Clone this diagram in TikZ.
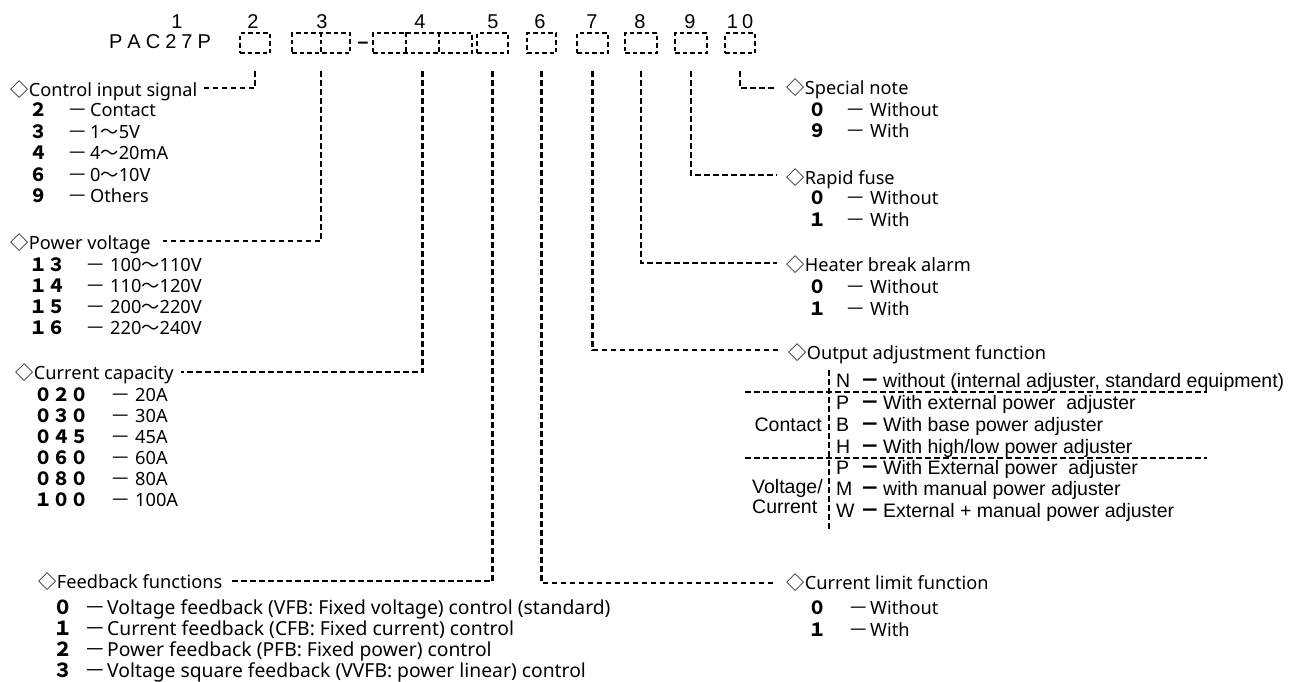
\documentclass[tikz,border=0pt]{standalone}
\usepackage{fontspec}
\setmainfont{Noto Sans}
\newfontfamily\cjk{Noto Sans CJK JP}
\newfontfamily\arl{Liberation Sans}
\usetikzlibrary{calc}
\newcommand{\dia}{{\cjk ◇}}
\newcommand{\wave}{{\cjk ～}}
\newcommand{\cd}[1]{{\cjk\bfseries #1}}
\newcommand{\dsh}{\scalebox{1.12}[1]{\cjk －}}
\newcommand{\opt}[4]{\makebox[#1pt][l]{\cd{#3}}\makebox[#2pt][l]{\dsh}#4}
\newcommand{\oar}[2]{\makebox[24pt][l]{#1}\makebox[23pt][l]{{\cjk\bfseries －}}#2}
\newcommand{\lf}{\fontsize{18.2}{21}\selectfont}
\newcommand{\fbf}{\fontsize{19.3}{21}\selectfont}
\newcommand{\af}{\arl\fontsize{19.5}{21}\selectfont}
\newcommand{\tf}{\arl\fontsize{20}{22}\selectfont}
\begin{document}
\begin{tikzpicture}[x=1pt,y=-1pt,
  ttl/.style={anchor=base west, inner sep=0pt, font=\lf},
  opt/.style={anchor=base west, inner sep=0pt, font=\lf},
  fbo/.style={anchor=base west, inner sep=0pt, font=\fbf},
  oa/.style={anchor=base west, inner sep=0pt, font=\af},
  topn/.style={anchor=base, inner sep=0pt, font=\tf},
  cbox/.style={draw, line width=2pt, dash pattern=on 4.5pt off 3pt, minimum height=20pt, inner sep=0pt},
  lead/.style={line width=2.3pt, dash pattern=on 5.5pt off 3.5pt}]
\useasboundingbox (0,0) rectangle (1291,681);
% ---- top code
\node[topn] (n1) at (177,28) {1};
\node[topn] (n2) at (253,28) {2};
\node[topn] (n3) at (322,28) {3};
\node[topn] (n4) at (420,28) {4};
\node[topn] (n5) at (493,28) {5};
\node[topn] (n6) at (540,28) {6};
\node[topn] (n7) at (592,28) {7};
\node[topn] (n8) at (640,28) {8};
\node[topn] (n9) at (690,28) {9};
\node[topn] (n10) at (740,28) {1\kern4pt 0};
\node[topn] (pac) at (160,48) {P\kern5pt A\kern5pt C\kern5pt 2\kern5pt 7\kern5pt P};
\node[topn] (hy) at (363,48) {\bfseries –};
\node[cbox, minimum width=30pt] (b2) at (255,43) {};
\node[cbox, minimum width=58pt] (b3) at (321,43) {};
\draw[line width=2pt, dash pattern=on 4.5pt off 3pt] (b3.north) -- (b3.south);
\node[cbox, minimum width=99pt] (b4) at (422.5,43) {};
\draw[line width=2pt, dash pattern=on 4.5pt off 3pt] ($(b4.north west)!0.333!(b4.north east)$) -- ($(b4.south west)!0.333!(b4.south east)$);
\draw[line width=2pt, dash pattern=on 4.5pt off 3pt] ($(b4.north west)!0.667!(b4.north east)$) -- ($(b4.south west)!0.667!(b4.south east)$);
\node[cbox, minimum width=31pt] (b5) at (492.5,43) {};
\node[cbox, minimum width=29pt] (b6) at (541.5,43) {};
\node[cbox, minimum width=31pt] (b7) at (592.5,43) {};
\node[cbox, minimum width=32pt] (b8) at (641,43) {};
\node[cbox, minimum width=32pt] (b9) at (691,43) {};
\node[cbox, minimum width=30pt] (b10) at (740,43) {};
% ---- left: control input signal
\node[ttl] (ci) at (10.5,96.5) {\dia Control input signal};
\node[opt] (ci1) at (29,116.5) {\opt{38.5}{22.5}{２}{Contact}};
\node[opt] (ci2) at (29,138) {\opt{38.5}{22.5}{３}{1\wave 5V}};
\node[opt] (ci3) at (29,159.5) {\opt{38.5}{22.5}{４}{4\wave 20mA}};
\node[opt] (ci4) at (29,181) {\opt{38.5}{22.5}{６}{0\wave 10V}};
\node[opt] (ci5) at (29,202.5) {\opt{38.5}{22.5}{９}{Others}};
% ---- power voltage
\node[ttl] (pv) at (10.5,249.5) {\dia Power voltage};
\node[opt] (pv1) at (29,271.5) {\opt{56.5}{24.5}{１３}{100\wave 110V}};
\node[opt] (pv2) at (29,292.5) {\opt{56.5}{24.5}{１４}{110\wave 120V}};
\node[opt] (pv3) at (29,313.5) {\opt{56.5}{24.5}{１５}{200\wave 220V}};
\node[opt] (pv4) at (29,334.5) {\opt{56.5}{24.5}{１６}{220\wave 240V}};
% ---- current capacity
\node[ttl] (cc) at (15.5,379.5) {\dia Current capacity};
\node[opt] (cc1) at (34,401.5) {\opt{76.5}{24.5}{０２０}{20A}};
\node[opt] (cc2) at (34,422.5) {\opt{76.5}{24.5}{０３０}{30A}};
\node[opt] (cc3) at (34,443.5) {\opt{76.5}{24.5}{０４５}{45A}};
\node[opt] (cc4) at (34,464.5) {\opt{76.5}{24.5}{０６０}{60A}};
\node[opt] (cc5) at (34,485.5) {\opt{76.5}{24.5}{０８０}{80A}};
\node[opt] (cc6) at (34,506.5) {\opt{76.5}{24.5}{１００}{100A}};
% ---- feedback
\node[ttl] (fb) at (38.5,588.5) {\dia Feedback functions};
\node[fbo] (fb1) at (53,614.5) {\opt{31}{23}{０}{Voltage feedback (VFB: Fixed voltage) control (standard)}};
\node[fbo] (fb2) at (53,635.5) {\opt{31}{23}{１}{Current feedback (CFB: Fixed current) control}};
\node[fbo] (fb3) at (53,656.5) {\opt{31}{23}{２}{Power feedback (PFB: Fixed power) control}};
\node[fbo] (fb4) at (53,677.5) {\opt{31}{23}{３}{Voltage square feedback (VVFB: power linear) control}};
% ---- right side
\node[ttl] (sn) at (786.5,94.5) {\dia Special note};
\node[opt] (sn1) at (808,116.5) {\opt{37.5}{24.5}{０}{Without}};
\node[opt] (sn2) at (808,137.5) {\opt{37.5}{24.5}{９}{With}};
\node[ttl] (rf) at (786.5,184.5) {\dia Rapid fuse};
\node[opt] (rf1) at (808,204.5) {\opt{37.5}{24.5}{０}{Without}};
\node[opt] (rf2) at (808,226.5) {\opt{37.5}{24.5}{１}{With}};
\node[ttl] (hb) at (786.5,271.5) {\dia Heater break alarm};
\node[opt] (hb1) at (808,293.5) {\opt{37.5}{24.5}{０}{Without}};
\node[opt] (hb2) at (808,315.5) {\opt{37.5}{24.5}{１}{With}};
\node[ttl] (oa) at (788.5,359.5) {\dia Output adjustment function};
\node[ttl] (cl) at (786.5,589.5) {\dia Current limit function};
\node[opt] (cl1) at (808,614.5) {\opt{40.5}{21.5}{０}{Without}};
\node[opt] (cl2) at (808,636.5) {\opt{40.5}{21.5}{１}{With}};
% ---- output adjustment table
\node[oa] (oa1) at (836,387) {\oar{N}{without (internal adjuster, standard equipment)}};
\node[oa] (oa2) at (836,409.5) {\oar{P}{With external power\ \ adjuster}};
\node[oa] (oa3) at (836,431) {\oar{B}{With base power adjuster}};
\node[oa] (oa4) at (836,453) {\oar{H}{With high/low power adjuster}};
\node[oa] (oa5) at (836,474) {\oar{P}{With External power\ \ adjuster}};
\node[oa] (oa6) at (836,495.5) {\oar{M}{with manual power adjuster}};
\node[oa] (oa7) at (836,517) {\oar{W}{External + manual power adjuster}};
\node[anchor=base east, inner sep=0pt, font=\af] (gc) at (822,431) {Contact};
\node[anchor=base west, inner sep=0pt, font=\af] (gv1) at (752,493) {Voltage/};
\node[anchor=base west, inner sep=0pt, font=\af] (gv2) at (752,513) {Current};
\coordinate (vt) at (829,370);
\coordinate (vb) at (829,532);
\draw[lead] (vt) -- (vb);
\coordinate (h1a) at (745,392);
\coordinate (h1b) at (1207,392);
\coordinate (h2a) at (745,458);
\coordinate (h2b) at (1207,458);
\draw[lead] (h1a) -- (h1b);
\draw[lead] (h2a) -- (h2b);
% ---- leaders
\draw[lead] (b2.south) ++(0,17) |- ($(ci.base east)+(3,-8.5)$);
\draw[lead] (b3.south) ++(0,17) |- ($(pv.base east)+(12,-8.5)$);
\draw[lead] (b4.south) ++(0,17) |- ($(cc.base east)+(7,-7.5)$);
\draw[lead] (b5.south) ++(0,17) |- ($(fb.base east)+(7,-7.5)$);
\draw[lead] (b6.south) ++(0,17) |- ($(cl.base west)+(-12,-6.5)$);
\draw[lead] (b7.south) ++(0,17) |- ($(oa.base west)+(-10,-9.5)$);
\draw[lead] (b8.south) ++(0,17) |- ($(hb.base west)+(-10,-8.5)$);
\draw[lead] (b9.south) ++(0,17) |- ($(rf.base west)+(-10,-9.5)$);
\draw[lead] (b10.south) ++(0,17) |- ($(sn.base west)+(-12,-6.5)$);
\end{tikzpicture}
\end{document}
